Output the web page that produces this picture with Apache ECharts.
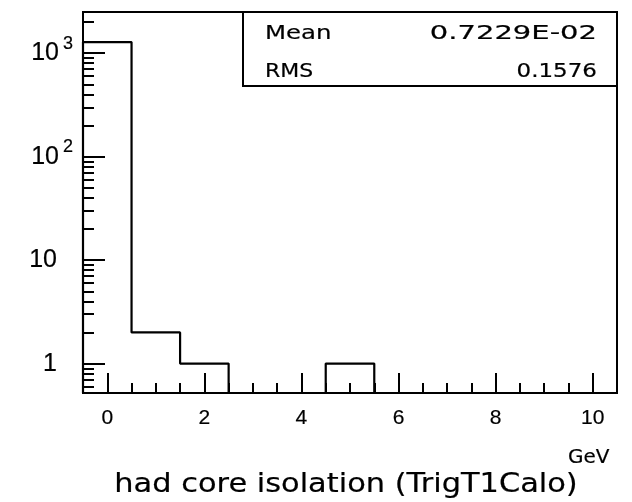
<!DOCTYPE html>
<html>
<head>
<meta charset="utf-8">
<script src="https://cdn.jsdelivr.net/npm/echarts@6/dist/echarts.min.js"></script>
<style>html,body{margin:0;padding:0;background:#fff}#c{width:632px;height:502px}</style>
</head>
<body>
<div id="c"></div>
<script>
// ---- data ----
const binEdges = [-0.5, 0.5, 1.5, 2.5, 3.5, 4.5, 5.5, 6.5, 7.5, 8.5, 9.5, 10.5];
const binCounts = [1280, 2, 1, 0, 0, 1, 0, 0, 0, 0, 0];
const xMajorTicks = [0, 2, 4, 6, 8, 10];
const xMinorTicks = [0.5, 1, 1.5, 2.5, 3, 3.5, 4.5, 5, 5.5, 6.5, 7, 7.5, 8.5, 9, 9.5];
const yMinorTicks = [0.6, 0.7, 0.8, 0.9, 2, 3, 4, 5, 6, 7, 8, 9, 20, 30, 40, 50, 60, 70, 80, 90,
                     200, 300, 400, 500, 600, 700, 800, 900, 2000];
const statsLabels = ['Mean', 'RMS'];
const statsValues = ['0.7229E-02', '0.1576'];
const xTitle = 'had core isolation (TrigT1Calo)';
const xUnit = 'GeV';
const X_MIN = -0.5, X_MAX = 10.5;
const Y_MIN = 0.52, Y_MAX = 2500;

// ---- build histogram outline from bins ----
const outline = [];
const floorV = Y_MIN;
outline.push([binEdges[0], floorV]);
binCounts.forEach((c, i) => {
  const v = c > 0 ? c : floorV;
  outline.push([binEdges[i], v]);
  outline.push([binEdges[i + 1], v]);
});
outline.push([binEdges[binEdges.length - 1], floorV]);

const FONT = 'DejaVu Sans';
const AXFONT = 'Liberation Sans';
const TB = 0.2;
const chart = echarts.init(document.getElementById('c'), null, {renderer: 'canvas'});

function isPow10(v) {
  const l = Math.log10(v);
  return Math.abs(l - Math.round(l)) < 1e-6;
}

const option = {
  animation: false,
  backgroundColor: '#fff',
  grid: {
    left: 83, right: 15, top: 12, bottom: 109,
    show: true, borderColor: '#000', borderWidth: 2, backgroundColor: 'transparent',
    containLabel: false, outerBoundsMode: 'none'
  },
  xAxis: [
    {
      type: 'value', min: X_MIN, max: X_MAX, position: 'bottom',
      axisLine: {show: true, onZero: false, lineStyle: {color: '#000', width: 2}},
      axisTick: {show: true, inside: true, length: 20, customValues: xMajorTicks, lineStyle: {color: '#000', width: 2}},
      axisLabel: {show: true, customValues: xMajorTicks, margin: 15, fontSize: 21, fontFamily: AXFONT, color: '#000',
                  textBorderColor: '#000', textBorderWidth: TB},
      splitLine: {show: false}
    },
    {
      type: 'value', min: X_MIN, max: X_MAX, position: 'bottom',
      axisLine: {show: false, onZero: false},
      axisTick: {show: true, inside: true, length: 10, customValues: xMinorTicks, lineStyle: {color: '#000', width: 2}},
      axisLabel: {show: false},
      splitLine: {show: false}
    }
  ],
  yAxis: [
    {
      type: 'log', logBase: 10, min: Y_MIN, max: Y_MAX, position: 'left',
      axisLine: {show: true, onZero: false, lineStyle: {color: '#000', width: 2}},
      axisTick: {show: true, inside: true, length: 22, lineStyle: {color: '#000', width: 2}},
      axisLabel: {
        show: true, margin: 10, align: 'right', verticalAlign: 'middle',
        formatter: function (v) {
          if (!isPow10(v)) return '';
          const e = Math.round(Math.log10(v));
          if (e === 0) return '{b|1}{p1| }';
          if (e === 1) return '{b|10}{p2| }';
          return '{b|10}{s|' + e + '}';
        },
        rich: {
          b: {fontSize: 25, fontFamily: AXFONT, color: '#000', lineHeight: 25, verticalAlign: 'middle',
              textBorderColor: '#000', textBorderWidth: TB},
          s: {fontSize: 18, fontFamily: AXFONT, color: '#000', lineHeight: 18, verticalAlign: 'middle', padding: [0, 0, 19, 4],
              textBorderColor: '#000', textBorderWidth: TB},
          p1: {width: 16, fontSize: 10, lineHeight: 10},
          p2: {width: 16, fontSize: 10, lineHeight: 10}
        }
      },
      splitLine: {show: false}
    },
    {
      type: 'value', min: Math.log10(Y_MIN), max: Math.log10(Y_MAX), position: 'left',
      axisLine: {show: false, onZero: false},
      axisTick: {show: true, inside: true, length: 11, customValues: yMinorTicks.map(Math.log10), lineStyle: {color: '#000', width: 2}},
      axisLabel: {show: false},
      splitLine: {show: false}
    }
  ],
  series: [
    {
      type: 'line', xAxisIndex: 0, yAxisIndex: 0,
      data: outline, showSymbol: false, symbol: 'none',
      lineStyle: {color: '#000', width: 2.2}, clip: true
    }
  ],
  graphic: [
    {type: 'rect', shape: {x: 243, y: 12, width: 374, height: 74},
     style: {fill: '#fff', stroke: '#000', lineWidth: 2}, z: 10},
    {type: 'text', x: 265, y: 34, scaleX: 1.22, z: 11,
     style: {text: statsLabels[0], font: '20px "DejaVu Sans"', fill: '#000', stroke: '#000', lineWidth: TB, align: 'left', verticalAlign: 'middle'}},
    {type: 'text', x: 597, y: 34, scaleX: 1.45, z: 11,
     style: {text: statsValues[0], font: '20px "DejaVu Sans"', fill: '#000', stroke: '#000', lineWidth: TB, align: 'right', verticalAlign: 'middle'}},
    {type: 'text', x: 265, y: 72, scaleX: 1.1, z: 11,
     style: {text: statsLabels[1], font: '20px "DejaVu Sans"', fill: '#000', stroke: '#000', lineWidth: TB, align: 'left', verticalAlign: 'middle'}},
    {type: 'text', x: 597, y: 72, scaleX: 1.15, z: 11,
     style: {text: statsValues[1], font: '20px "DejaVu Sans"', fill: '#000', stroke: '#000', lineWidth: TB, align: 'right', verticalAlign: 'middle'}},
    {type: 'text', x: 346, y: 485, scaleX: 1.17, z: 11,
     style: {text: xTitle, font: '26px "DejaVu Sans"', fill: '#000', stroke: '#000', lineWidth: TB, align: 'center', verticalAlign: 'middle'}},
    {type: 'text', x: 568, y: 458, z: 12,
     style: {text: xUnit, font: '20px "DejaVu Sans"', fill: '#000', stroke: '#000', lineWidth: TB, align: 'left', verticalAlign: 'middle'}}
  ]
};
chart.setOption(option);
</script>
</body>
</html>
